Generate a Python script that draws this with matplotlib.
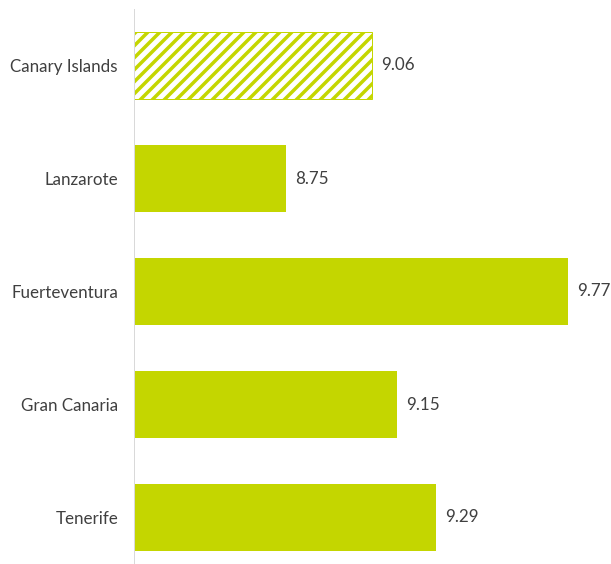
import matplotlib
matplotlib.use("Agg")
import matplotlib.pyplot as plt

categories = ["Canary Islands", "Lanzarote", "Fuerteventura", "Gran Canaria", "Tenerife"]
values = [9.06, 8.75, 9.77, 9.15, 9.29]
hatched = [True, False, False, False, False]

GREEN = "#C4D600"
TEXT = "#404040"

plt.rcParams['font.family'] = ['Lato', 'DejaVu Sans']
plt.rcParams['hatch.linewidth'] = 3.5
plt.rcParams['hatch.color'] = GREEN

DPI = 72
fig = plt.figure(figsize=(611 / DPI, 564 / DPI), dpi=DPI)
left = 134 / 611
width = (632 - 134) / 611
top_px, bot_px = 9, 574
ax = fig.add_axes([left, 1 - bot_px / 564, width, (bot_px - top_px) / 564])

ypos = list(range(len(categories)))
for y, v, h in zip(ypos, values, hatched):
    if h:
        ax.barh(y, v - 8.2, left=8.2, height=0.59, facecolor="white",
                edgecolor=GREEN, hatch="//", linewidth=1.0)
    else:
        ax.barh(y, v - 8.2, left=8.2, height=0.59, color=GREEN, linewidth=0)
    ax.text(v + 0.033, y, f"{v:.2f}", va="center", ha="left", fontsize=17, color=TEXT)

ax.set_xlim(8.2, 10.0)
ax.set_ylim(len(categories) - 0.5, -0.5)
ax.set_yticks(ypos)
ax.set_yticklabels(categories, fontsize=17, color=TEXT)
ax.tick_params(axis="y", length=0, pad=16)
ax.set_xticks([])
for s in ["top", "right", "bottom"]:
    ax.spines[s].set_visible(False)
ax.spines["left"].set_color("#D9D9D9")
ax.spines["left"].set_linewidth(1)

fig.savefig("out.png", dpi=DPI)
